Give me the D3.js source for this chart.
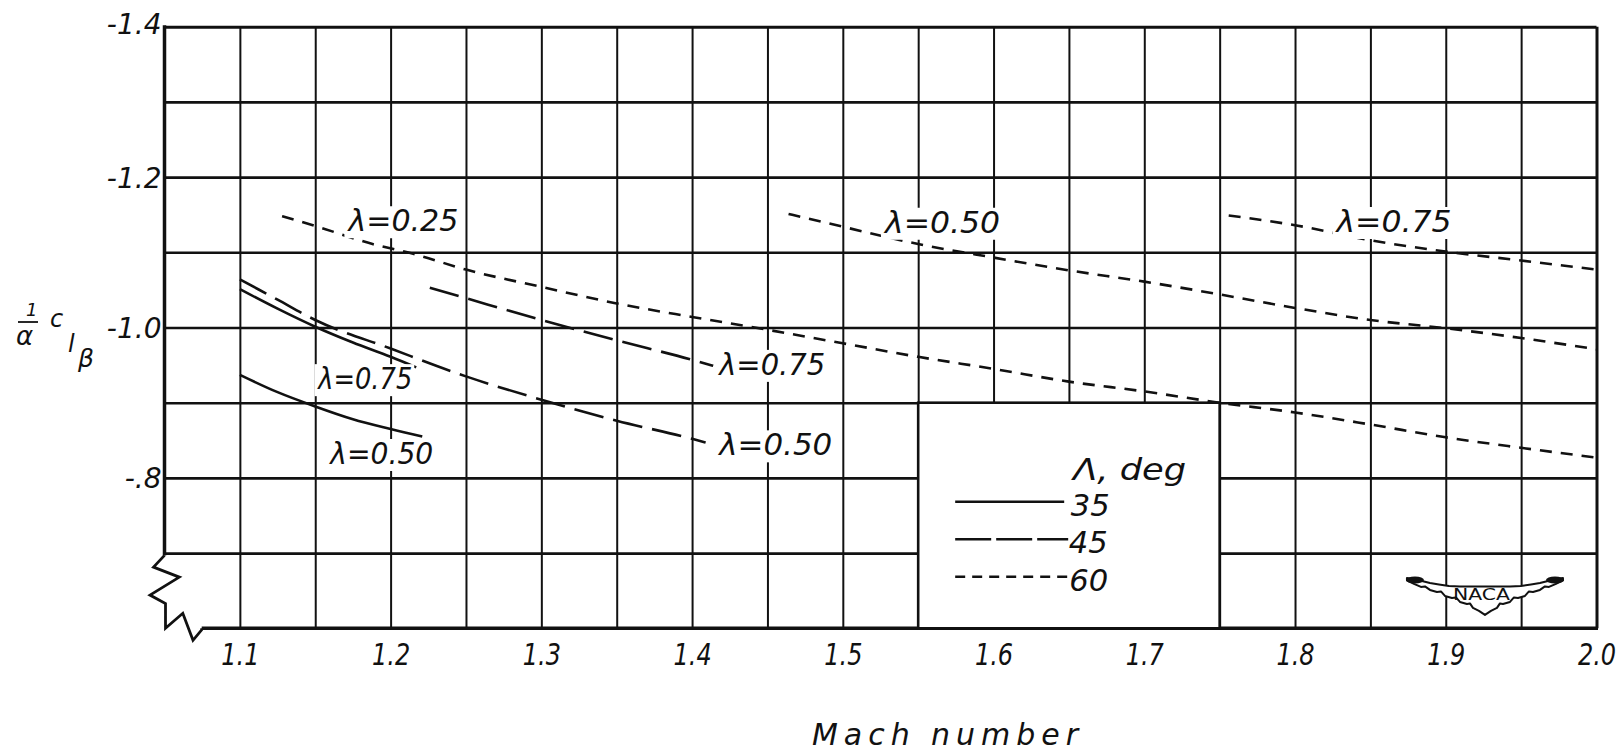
<!DOCTYPE html>
<html>
<head>
<meta charset="utf-8">
<script src="https://cdn.jsdelivr.net/npm/d3@7"></script>
<style>
  html, body { margin: 0; background: #fff; }
  svg { display: block; }
  text { font-family: 'DejaVu Sans', sans-serif; font-style: italic; fill: #111; }
</style>
</head>
<body>
<svg id="chart" width="1624" height="755"></svg>
<script>
// ── Data: rolling-moment derivative vs Mach number ──────────────────────
const xTickValues = [1.1, 1.2, 1.3, 1.4, 1.5, 1.6, 1.7, 1.8, 1.9, 2.0];
const xTickLabels = ['1.1', '1.2', '1.3', '1.4', '1.5', '1.6', '1.7', '1.8', '1.9', '2.0'];
const yTickValues = [-1.4, -1.2, -1.0, -0.8];
const yTickLabels = ['-1.4', '-1.2', '-1.0', '-.8'];
const xGridValues = [1.1, 1.15, 1.2, 1.25, 1.3, 1.35, 1.4, 1.45, 1.5, 1.55,
                     1.6, 1.65, 1.7, 1.75, 1.8, 1.85, 1.9, 1.95, 2.0];
const yGridValues = [-1.4, -1.3, -1.2, -1.1, -1.0, -0.9, -0.8, -0.7];

const legendSweeps = ['35', '45', '60'];

// [Mach, value]
const sweep35_taper075 = [[1.10, -1.051], [1.125, -1.025], [1.15, -1.001], [1.175, -0.980], [1.20, -0.961], [1.217, -0.947]];
const sweep35_taper050 = [[1.10, -0.937], [1.125, -0.914], [1.15, -0.895], [1.175, -0.878], [1.20, -0.865], [1.221, -0.855]];
const sweep45_taper075 = [[1.226, -1.053], [1.25, -1.039], [1.30, -1.010], [1.35, -0.983], [1.40, -0.957], [1.414, -0.949]];
const sweep45_taper050 = [[1.10, -1.064], [1.125, -1.037], [1.15, -1.010], [1.20, -0.972], [1.25, -0.935], [1.30, -0.904],
                          [1.35, -0.876], [1.40, -0.852], [1.409, -0.847]];
const sweep60_taper025 = [[1.128, -1.148], [1.15, -1.135], [1.188, -1.111], [1.215, -1.098], [1.25, -1.077], [1.30, -1.054],
                          [1.35, -1.032], [1.40, -1.014], [1.45, -0.997], [1.50, -0.979], [1.55, -0.961], [1.60, -0.945],
                          [1.65, -0.928], [1.70, -0.915], [1.75, -0.900], [1.80, -0.887], [1.85, -0.871], [1.90, -0.854],
                          [1.95, -0.840], [2.00, -0.827]];
const sweep60_taper050 = [[1.464, -1.151], [1.50, -1.134], [1.55, -1.111], [1.60, -1.093], [1.65, -1.076], [1.70, -1.061],
                          [1.75, -1.044], [1.80, -1.026], [1.85, -1.010], [1.90, -0.999], [1.95, -0.986], [2.00, -0.971]];
const sweep60_taper075 = [[1.756, -1.149], [1.80, -1.136], [1.85, -1.116], [1.90, -1.101], [1.95, -1.089], [2.00, -1.077]];

const curves = [
  { sweep: '35', pts: sweep35_taper075 },
  { sweep: '35', pts: sweep35_taper050 },
  { sweep: '45', pts: sweep45_taper075 },
  { sweep: '45', pts: sweep45_taper050 },
  { sweep: '60', pts: sweep60_taper025 },
  { sweep: '60', pts: sweep60_taper050 },
  { sweep: '60', pts: sweep60_taper075 },
];

// ── Layout ───────────────────────────────────────────────────────────────
const INK = '#111';
const DASH = { '35': null, '45': '30,10', '60': '12,9' };
const LEGEND_DASH = { '35': null, '45': '36,5', '60': '10,7' };

const svg = d3.select('#chart');
const x = d3.scaleLinear().domain([1.05, 2.0]).range([164.5, 1596.5]);
const y = d3.scaleLinear().domain([-1.4, -0.6]).range([26.7, 628.3]);
const plotH = y(-0.6) - y(-1.4);
const plotW = x(2.0) - x(1.05);

// ── Grid ────────────────────────────────────────────────────────────────
const gV = svg.append('g')
  .attr('transform', `translate(0,${y(-0.6)})`)
  .call(d3.axisBottom(x).tickValues(xGridValues).tickSize(-plotH).tickFormat(''));
gV.select('.domain').remove();
gV.selectAll('line')
  .attr('stroke', INK)
  .attr('stroke-width', d => d === 2.0 ? 3 : 2);

const gH = svg.append('g')
  .attr('transform', `translate(${x(1.05)},0)`)
  .call(d3.axisLeft(y).tickValues(yGridValues).tickSize(-plotW).tickFormat(''));
gH.select('.domain').remove();
gH.selectAll('line')
  .attr('stroke', INK)
  .attr('stroke-width', d => d === -1.4 ? 3 : 2.6);

// left axis (broken near bottom)
const x0 = x(1.05), yb = y(-0.6), y7 = y(-0.7);
svg.append('line')
  .attr('x1', x0).attr('x2', x0)
  .attr('y1', y(-1.4) - 1.5).attr('y2', y7 + 2.3)
  .attr('stroke', INK).attr('stroke-width', 3.5);

const brk = [[0, y7 + 2.3], [-11, y7 + 14], [14.8, y7 + 24], [-14.5, y7 + 42], [1, y7 + 50.4],
             [1, yb], [18.3, yb - 15], [28.5, yb + 12], [37.2, yb + 1.5], [37.2, yb]];
svg.append('path')
  .attr('d', d3.line().x(d => x0 + d[0]).y(d => d[1])(brk))
  .attr('fill', 'none').attr('stroke', INK).attr('stroke-width', 2.8)
  .attr('stroke-linejoin', 'miter');

svg.append('line')
  .attr('x1', x0 + 37.2).attr('x2', x(2.0) + 1.5)
  .attr('y1', yb).attr('y2', yb)
  .attr('stroke', INK).attr('stroke-width', 3.5);

// ── Legend box (hides grid) ─────────────────────────────────────────────
const lb = { x0: x(1.55), x1: x(1.75), y0: y(-0.9), y1: y(-0.6) };
svg.append('rect')
  .attr('x', lb.x0).attr('y', lb.y0)
  .attr('width', lb.x1 - lb.x0).attr('height', lb.y1 - lb.y0)
  .attr('fill', '#fff').attr('stroke', INK).attr('stroke-width', 2.6);

// ── Axis tick labels ────────────────────────────────────────────────────
const ax = svg.append('g')
  .attr('transform', `translate(0,${yb})`)
  .call(d3.axisBottom(x).tickValues(xTickValues).tickSize(0).tickPadding(0)
    .tickFormat((d, i) => xTickLabels[i]));
ax.select('.domain').remove();
ax.selectAll('text')
  .attr('y', 36.5).attr('dy', null)
  .attr('font-size', 30)
  .attr('fill', INK)
  .style('font-family', "'DejaVu Sans', sans-serif")
  .style('font-style', 'italic')
  .attr('transform', 'scale(0.8,1)');

const ay = svg.append('g')
  .attr('transform', `translate(${x0 - 3},0)`)
  .call(d3.axisLeft(y).tickValues(yTickValues).tickSize(0).tickPadding(0)
    .tickFormat((d, i) => yTickLabels[i]));
ay.select('.domain').remove();
ay.selectAll('text')
  .attr('x', 0).attr('dy', '0.36em')
  .attr('font-size', 28)
  .attr('fill', INK)
  .style('font-family', "'DejaVu Sans', sans-serif")
  .style('font-style', 'italic');
ay.selectAll('.tick').filter(d => d === -1.4).select('text').attr('dy', '0.25em');

// ── Curve labels (white backing cuts the grid, like the original) ──────
const curveLabels = [
  { text: 'λ=0.25', M: 1.172, v: -1.128, w: 110 },
  { text: 'λ=0.50', M: 1.528, v: -1.126, w: 115 },
  { text: 'λ=0.75', M: 1.8275, v: -1.127, w: 115 },
  { text: 'λ=0.75', M: 1.418, v: -0.937, w: 106 },
  { text: 'λ=0.50', M: 1.418, v: -0.830, w: 113 },
  { text: 'λ=0.75', M: 1.152, v: -0.918, w: 94 },
  { text: 'λ=0.50', M: 1.160, v: -0.8185, w: 103 },
];
const labelG = svg.append('g');
const labelBg = labelG.append('g');
const labelTx = labelG.append('g');

// ── Curves ──────────────────────────────────────────────────────────────
const line = d3.line()
  .x(d => x(d[0]))
  .y(d => y(d[1]))
  .curve(d3.curveMonotoneX);

svg.append('g').selectAll('path')
  .data(curves)
  .join('path')
    .attr('d', d => line(d.pts))
    .attr('fill', 'none')
    .attr('stroke', INK)
    .attr('stroke-width', 2.6)
    .attr('stroke-dasharray', d => DASH[d.sweep]);

labelTx.selectAll('text')
  .data(curveLabels)
  .join('text')
    .attr('x', d => x(d.M))
    .attr('y', d => y(d.v))
    .attr('font-size', 30)
    .attr('textLength', d => d.w)
    .attr('lengthAdjust', 'spacingAndGlyphs')
    .text(d => d.text)
    .each(function () {
      const b = this.getBBox();
      labelBg.append('rect')
        .attr('x', b.x - 2).attr('y', b.y + 3)
        .attr('width', b.width + 4).attr('height', b.height - 3)
        .attr('fill', '#fff');
    });
svg.node().appendChild(labelG.node());

// ── Legend content ──────────────────────────────────────────────────────
svg.append('text')
  .attr('x', lb.x0 + 155).attr('y', lb.y0 + 77)
  .attr('font-size', 30)
  .attr('textLength', 113)
  .attr('lengthAdjust', 'spacingAndGlyphs')
  .text('Λ, deg');

const legRowY = [99, 136.5, 174];
const legTextX = [152.5, 150.5, 151];
const legText = svg.append('g').selectAll('g')
  .data(legendSweeps)
  .join('g');
legText.append('line')
  .attr('x1', lb.x0 + 37)
  .attr('x2', (d, i) => lb.x0 + (i === 0 ? 146 : 150))
  .attr('y1', (d, i) => lb.y0 + legRowY[i])
  .attr('y2', (d, i) => lb.y0 + legRowY[i])
  .attr('stroke', INK)
  .attr('stroke-width', 2.6)
  .attr('stroke-dasharray', d => LEGEND_DASH[d]);
legText.append('text')
  .attr('x', (d, i) => lb.x0 + legTextX[i])
  .attr('y', (d, i) => lb.y0 + legRowY[i] + 14)
  .attr('font-size', 30)
  .attr('textLength', 39)
  .attr('lengthAdjust', 'spacingAndGlyphs')
  .text(d => d);

// ── NACA insignia ───────────────────────────────────────────────────────
const logo = svg.append('g')
  .attr('transform', `translate(${x(1.926)},${y(-0.667)})`);
const topR = [[25, 8.5], [36, 8], [46, 6.5], [55, 5], [63, 3], [70, 1.5], [78, 0]];
const botR = [[78, 2.5], [71, 6], [64, 9], [60, 8.5], [55, 12], [48, 14], [44, 13.5], [40, 18],
              [33, 20], [29, 19.5], [25, 24], [18, 26], [15, 25.5], [12, 30], [6, 33], [0, 37]];
const outline = [
  ...topR.map(p => [-p[0], p[1]]).reverse().slice(0, 0),
  [-25, 8.5], ...topR,
  ...botR,
  ...botR.map(p => [-p[0], p[1]]).reverse(),
  ...topR.map(p => [-p[0], p[1]]).reverse(),
];
logo.append('path')
  .attr('d', 'M' + outline.map(p => p.join(',')).join('L') + 'Z')
  .attr('fill', '#fff').attr('stroke', INK).attr('stroke-width', 2)
  .attr('stroke-linejoin', 'round');
logo.selectAll('ellipse')
  .data([-70, 70])
  .join('ellipse')
    .attr('cx', d => d).attr('cy', 2).attr('rx', 9).attr('ry', 3.5)
    .attr('fill', INK);
logo.append('text')
  .attr('x', -32).attr('y', 22)
  .attr('font-size', 16)
  .style('font-style', 'normal')
  .attr('textLength', 57)
  .attr('lengthAdjust', 'spacingAndGlyphs')
  .text('NACA');

// ── Axis titles ─────────────────────────────────────────────────────────
svg.append('text')
  .attr('x', 812).attr('y', 745)
  .attr('font-size', 30)
  .attr('textLength', 266)
  .attr('lengthAdjust', 'spacing')
  .text('Mach number');

const yt = svg.append('g');
yt.append('text').attr('x', 26).attr('y', 316).attr('font-size', 18).text('1');
yt.append('line').attr('x1', 18).attr('x2', 38).attr('y1', 322).attr('y2', 322)
  .attr('stroke', INK).attr('stroke-width', 1.8);
yt.append('text').attr('x', 16).attr('y', 345).attr('font-size', 26).text('α');
yt.append('text').attr('x', 50).attr('y', 327).attr('font-size', 24).text('c');
yt.append('text').attr('x', 68).attr('y', 352).attr('font-size', 24).text('l');
yt.append('text').attr('x', 78).attr('y', 367).attr('font-size', 25).text('β');
</script>
</body>
</html>
